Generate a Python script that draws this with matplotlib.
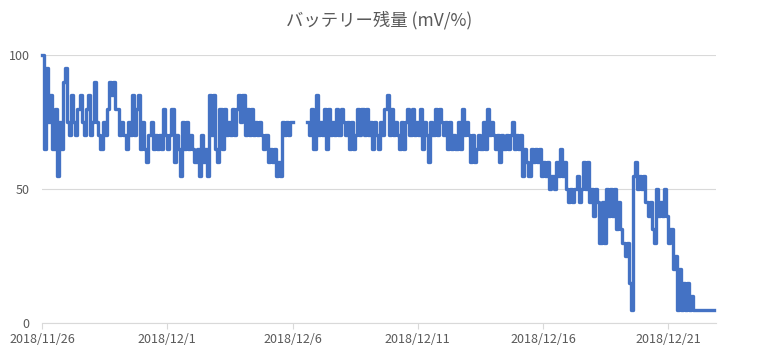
"""Battery level (mV/%) over ~4 weeks, Excel-style line chart.

Output: out.png
"""

import matplotlib
matplotlib.use("Agg")
import matplotlib.dates as mdates
import matplotlib.pyplot as plt
import numpy as np
import pandas as pd
from matplotlib.ticker import FuncFormatter

plt.rcParams["font.family"] = ["Noto Sans CJK JP", "DejaVu Sans"]

nan = np.nan

# ---- readings, one value every 2 hours ------------------------------
START = "2018-11-26 00:00"
STEP = "2h"

week1 = [  # Nov 26 - Dec 2
    100, 65, 95, 75, 85, 65, 80, 55, 75, 65, 90, 95,
    75, 70, 85, 75, 70, 80, 85, 75, 70, 80, 85, 70,
    75, 90, 75, 70, 65, 75, 70, 80, 90, 85, 90, 80,
    80, 70, 75, 70, 65, 75, 70, 85, 70, 80, 85, 65,
    75, 65, 60, 70, 75, 65, 70, 65, 70, 65, 80, 70,
    65, 70, 80, 60, 70, 65, 55, 75, 65, 75, 65, 70,
    65, 60, 65, 55, 70, 60, 65, 55, 85, 70, 85, 65,
]
week2 = [  # Dec 3 - Dec 9 (logger offline early on Dec 6)
    60, 80, 65, 80, 70, 75, 70, 80, 70, 80, 85, 75,
    85, 70, 80, 70, 80, 70, 75, 70, 75, 70, 65, 70,
    60, 65, 60, 65, 55, 60, 55, 75, 70, 75, 70, 75,
    nan, nan, nan, nan, nan, nan, nan, 75, 70, 80, 65, 85,
    70, 75, 70, 80, 65, 80, 70, 75, 70, 80, 70, 80,
    75, 70, 75, 65, 75, 65, 70, 80, 70, 80, 70, 80,
    70, 75, 65, 75, 70, 65, 75, 70, 80, 85, 70, 80,
]
week3 = [  # Dec 10 - Dec 16
    70, 75, 70, 65, 75, 65, 75, 80, 70, 80, 70, 75,
    70, 80, 65, 75, 70, 60, 75, 70, 80, 70, 80, 75,
    70, 75, 65, 75, 65, 70, 65, 75, 65, 80, 70, 75,
    70, 60, 70, 60, 65, 70, 65, 75, 65, 80, 70, 75,
    70, 65, 70, 60, 70, 65, 70, 65, 70, 75, 65, 70,
    65, 70, 55, 65, 60, 55, 65, 60, 65, 60, 65, 55,
    60, 55, 60, 50, 55, 50, 60, 55, 65, 55, 60, 50,
]
week4 = [  # Dec 17 - Dec 22
    45, 50, 45, 50, 55, 45, 50, 60, 50, 60, 45, 50,
    40, 50, 45, 30, 45, 30, 50, 40, 50, 40, 50, 35,
    45, 35, 30, 25, 30, 15, 5, 55, 60, 50, 55, 50,
    55, 45, 40, 45, 35, 30, 50, 40, 45, 40, 50, 40,
    30, 35, 20, 25, 5, 20, 5, 15, 5, 15, 5, 10,
    5, 5, 5, 5, 5, 5, 5, 5, 5, 5, 5,
]

Y_TICKS = [0, 50, 100]
TICK_DAYS = [1, 6, 11, 16, 21, 26]
TITLE = "バッテリー残量 (mV/%)"

values = week1 + week2 + week3 + week4
times = pd.date_range(START, periods=len(values), freq=STEP)

GRID = "#d9d9d9"
TEXT = "#595959"

fig = plt.figure(figsize=(7.58, 3.52), dpi=100)
ax = fig.add_axes([42 / 758, 29 / 352, 674 / 758, 268 / 352])

# readings change in steps, so draw them as steps
ax.plot(times, values, color="#4472C4", lw=2.4, drawstyle="steps-post",
        clip_on=False)

t0 = pd.Timestamp(START)
ax.set_xlim(t0, t0 + pd.Timedelta(days=26.9))
ax.set_ylim(0, 100)
ax.set_yticks(Y_TICKS)

ax.xaxis.set_major_locator(mdates.DayLocator(bymonthday=TICK_DAYS))
ax.xaxis.set_major_formatter(FuncFormatter(
    lambda v, _: (lambda d: f"{d.year}/{d.month}/{d.day}")(mdates.num2date(v))))

ax.yaxis.grid(True, color=GRID, lw=0.8)
ax.set_axisbelow(True)
for side in ("top", "right", "left"):
    ax.spines[side].set_visible(False)
ax.spines["bottom"].set_color(GRID)
ax.spines["bottom"].set_linewidth(0.8)

ax.tick_params(axis="x", length=4, color=GRID, labelcolor=TEXT,
               labelsize=9, pad=3)
ax.tick_params(axis="y", length=0, labelcolor=TEXT, labelsize=9, pad=9)

fig.text(0.5, 1 - 20 / 352, TITLE, ha="center", va="center",
         fontsize=12.5, color=TEXT)

fig.savefig("out.png", dpi=100)
